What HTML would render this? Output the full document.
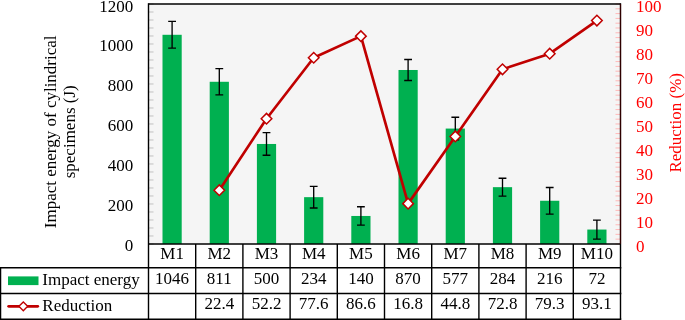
<!DOCTYPE html>
<html><head><meta charset="utf-8"><title>Chart</title><style>html,body{margin:0;padding:0;background:#fff}svg{display:block}</style></head><body>
<svg width="685" height="320" viewBox="0 0 685 320" font-family="'Liberation Serif', 'Times New Roman', serif" font-size="17">
<rect width="685" height="320" fill="#fff"/>
<rect x="148.5" y="4.0" width="472.00" height="239.95" fill="#f5f5f5"/>
<line x1="148.5" x2="153.5" y1="243.95" y2="243.95" stroke="#d0d0d0" stroke-width="1.4"/>
<line x1="148.5" x2="153.5" y1="235.95" y2="235.95" stroke="#d0d0d0" stroke-width="1.4"/>
<line x1="148.5" x2="153.5" y1="227.95" y2="227.95" stroke="#d0d0d0" stroke-width="1.4"/>
<line x1="148.5" x2="153.5" y1="219.95" y2="219.95" stroke="#d0d0d0" stroke-width="1.4"/>
<line x1="148.5" x2="153.5" y1="211.96" y2="211.96" stroke="#d0d0d0" stroke-width="1.4"/>
<line x1="148.5" x2="153.5" y1="203.96" y2="203.96" stroke="#d0d0d0" stroke-width="1.4"/>
<line x1="148.5" x2="153.5" y1="195.96" y2="195.96" stroke="#d0d0d0" stroke-width="1.4"/>
<line x1="148.5" x2="153.5" y1="187.96" y2="187.96" stroke="#d0d0d0" stroke-width="1.4"/>
<line x1="148.5" x2="153.5" y1="179.96" y2="179.96" stroke="#d0d0d0" stroke-width="1.4"/>
<line x1="148.5" x2="153.5" y1="171.96" y2="171.96" stroke="#d0d0d0" stroke-width="1.4"/>
<line x1="148.5" x2="153.5" y1="163.97" y2="163.97" stroke="#d0d0d0" stroke-width="1.4"/>
<line x1="148.5" x2="153.5" y1="155.97" y2="155.97" stroke="#d0d0d0" stroke-width="1.4"/>
<line x1="148.5" x2="153.5" y1="147.97" y2="147.97" stroke="#d0d0d0" stroke-width="1.4"/>
<line x1="148.5" x2="153.5" y1="139.97" y2="139.97" stroke="#d0d0d0" stroke-width="1.4"/>
<line x1="148.5" x2="153.5" y1="131.97" y2="131.97" stroke="#d0d0d0" stroke-width="1.4"/>
<line x1="148.5" x2="153.5" y1="123.97" y2="123.97" stroke="#d0d0d0" stroke-width="1.4"/>
<line x1="148.5" x2="153.5" y1="115.98" y2="115.98" stroke="#d0d0d0" stroke-width="1.4"/>
<line x1="148.5" x2="153.5" y1="107.98" y2="107.98" stroke="#d0d0d0" stroke-width="1.4"/>
<line x1="148.5" x2="153.5" y1="99.98" y2="99.98" stroke="#d0d0d0" stroke-width="1.4"/>
<line x1="148.5" x2="153.5" y1="91.98" y2="91.98" stroke="#d0d0d0" stroke-width="1.4"/>
<line x1="148.5" x2="153.5" y1="83.98" y2="83.98" stroke="#d0d0d0" stroke-width="1.4"/>
<line x1="148.5" x2="153.5" y1="75.98" y2="75.98" stroke="#d0d0d0" stroke-width="1.4"/>
<line x1="148.5" x2="153.5" y1="67.99" y2="67.99" stroke="#d0d0d0" stroke-width="1.4"/>
<line x1="148.5" x2="153.5" y1="59.99" y2="59.99" stroke="#d0d0d0" stroke-width="1.4"/>
<line x1="148.5" x2="153.5" y1="51.99" y2="51.99" stroke="#d0d0d0" stroke-width="1.4"/>
<line x1="148.5" x2="153.5" y1="43.99" y2="43.99" stroke="#d0d0d0" stroke-width="1.4"/>
<line x1="148.5" x2="153.5" y1="35.99" y2="35.99" stroke="#d0d0d0" stroke-width="1.4"/>
<line x1="148.5" x2="153.5" y1="27.99" y2="27.99" stroke="#d0d0d0" stroke-width="1.4"/>
<line x1="148.5" x2="153.5" y1="20.00" y2="20.00" stroke="#d0d0d0" stroke-width="1.4"/>
<line x1="148.5" x2="153.5" y1="12.00" y2="12.00" stroke="#d0d0d0" stroke-width="1.4"/>
<line x1="148.5" x2="153.5" y1="4.00" y2="4.00" stroke="#d0d0d0" stroke-width="1.4"/>
<line x1="615.5" x2="620.5" y1="243.95" y2="243.95" stroke="#ffb8b8" stroke-width="1"/>
<line x1="615.5" x2="620.5" y1="239.15" y2="239.15" stroke="#ffb8b8" stroke-width="1"/>
<line x1="615.5" x2="620.5" y1="234.35" y2="234.35" stroke="#ffb8b8" stroke-width="1"/>
<line x1="615.5" x2="620.5" y1="229.55" y2="229.55" stroke="#ffb8b8" stroke-width="1"/>
<line x1="615.5" x2="620.5" y1="224.75" y2="224.75" stroke="#ffb8b8" stroke-width="1"/>
<line x1="615.5" x2="620.5" y1="219.95" y2="219.95" stroke="#ffb8b8" stroke-width="1"/>
<line x1="615.5" x2="620.5" y1="215.16" y2="215.16" stroke="#ffb8b8" stroke-width="1"/>
<line x1="615.5" x2="620.5" y1="210.36" y2="210.36" stroke="#ffb8b8" stroke-width="1"/>
<line x1="615.5" x2="620.5" y1="205.56" y2="205.56" stroke="#ffb8b8" stroke-width="1"/>
<line x1="615.5" x2="620.5" y1="200.76" y2="200.76" stroke="#ffb8b8" stroke-width="1"/>
<line x1="615.5" x2="620.5" y1="195.96" y2="195.96" stroke="#ffb8b8" stroke-width="1"/>
<line x1="615.5" x2="620.5" y1="191.16" y2="191.16" stroke="#ffb8b8" stroke-width="1"/>
<line x1="615.5" x2="620.5" y1="186.36" y2="186.36" stroke="#ffb8b8" stroke-width="1"/>
<line x1="615.5" x2="620.5" y1="181.56" y2="181.56" stroke="#ffb8b8" stroke-width="1"/>
<line x1="615.5" x2="620.5" y1="176.76" y2="176.76" stroke="#ffb8b8" stroke-width="1"/>
<line x1="615.5" x2="620.5" y1="171.96" y2="171.96" stroke="#ffb8b8" stroke-width="1"/>
<line x1="615.5" x2="620.5" y1="167.17" y2="167.17" stroke="#ffb8b8" stroke-width="1"/>
<line x1="615.5" x2="620.5" y1="162.37" y2="162.37" stroke="#ffb8b8" stroke-width="1"/>
<line x1="615.5" x2="620.5" y1="157.57" y2="157.57" stroke="#ffb8b8" stroke-width="1"/>
<line x1="615.5" x2="620.5" y1="152.77" y2="152.77" stroke="#ffb8b8" stroke-width="1"/>
<line x1="615.5" x2="620.5" y1="147.97" y2="147.97" stroke="#ffb8b8" stroke-width="1"/>
<line x1="615.5" x2="620.5" y1="143.17" y2="143.17" stroke="#ffb8b8" stroke-width="1"/>
<line x1="615.5" x2="620.5" y1="138.37" y2="138.37" stroke="#ffb8b8" stroke-width="1"/>
<line x1="615.5" x2="620.5" y1="133.57" y2="133.57" stroke="#ffb8b8" stroke-width="1"/>
<line x1="615.5" x2="620.5" y1="128.77" y2="128.77" stroke="#ffb8b8" stroke-width="1"/>
<line x1="615.5" x2="620.5" y1="123.97" y2="123.97" stroke="#ffb8b8" stroke-width="1"/>
<line x1="615.5" x2="620.5" y1="119.18" y2="119.18" stroke="#ffb8b8" stroke-width="1"/>
<line x1="615.5" x2="620.5" y1="114.38" y2="114.38" stroke="#ffb8b8" stroke-width="1"/>
<line x1="615.5" x2="620.5" y1="109.58" y2="109.58" stroke="#ffb8b8" stroke-width="1"/>
<line x1="615.5" x2="620.5" y1="104.78" y2="104.78" stroke="#ffb8b8" stroke-width="1"/>
<line x1="615.5" x2="620.5" y1="99.98" y2="99.98" stroke="#ffb8b8" stroke-width="1"/>
<line x1="615.5" x2="620.5" y1="95.18" y2="95.18" stroke="#ffb8b8" stroke-width="1"/>
<line x1="615.5" x2="620.5" y1="90.38" y2="90.38" stroke="#ffb8b8" stroke-width="1"/>
<line x1="615.5" x2="620.5" y1="85.58" y2="85.58" stroke="#ffb8b8" stroke-width="1"/>
<line x1="615.5" x2="620.5" y1="80.78" y2="80.78" stroke="#ffb8b8" stroke-width="1"/>
<line x1="615.5" x2="620.5" y1="75.98" y2="75.98" stroke="#ffb8b8" stroke-width="1"/>
<line x1="615.5" x2="620.5" y1="71.19" y2="71.19" stroke="#ffb8b8" stroke-width="1"/>
<line x1="615.5" x2="620.5" y1="66.39" y2="66.39" stroke="#ffb8b8" stroke-width="1"/>
<line x1="615.5" x2="620.5" y1="61.59" y2="61.59" stroke="#ffb8b8" stroke-width="1"/>
<line x1="615.5" x2="620.5" y1="56.79" y2="56.79" stroke="#ffb8b8" stroke-width="1"/>
<line x1="615.5" x2="620.5" y1="51.99" y2="51.99" stroke="#ffb8b8" stroke-width="1"/>
<line x1="615.5" x2="620.5" y1="47.19" y2="47.19" stroke="#ffb8b8" stroke-width="1"/>
<line x1="615.5" x2="620.5" y1="42.39" y2="42.39" stroke="#ffb8b8" stroke-width="1"/>
<line x1="615.5" x2="620.5" y1="37.59" y2="37.59" stroke="#ffb8b8" stroke-width="1"/>
<line x1="615.5" x2="620.5" y1="32.79" y2="32.79" stroke="#ffb8b8" stroke-width="1"/>
<line x1="615.5" x2="620.5" y1="27.99" y2="27.99" stroke="#ffb8b8" stroke-width="1"/>
<line x1="615.5" x2="620.5" y1="23.20" y2="23.20" stroke="#ffb8b8" stroke-width="1"/>
<line x1="615.5" x2="620.5" y1="18.40" y2="18.40" stroke="#ffb8b8" stroke-width="1"/>
<line x1="615.5" x2="620.5" y1="13.60" y2="13.60" stroke="#ffb8b8" stroke-width="1"/>
<line x1="615.5" x2="620.5" y1="8.80" y2="8.80" stroke="#ffb8b8" stroke-width="1"/>
<line x1="615.5" x2="620.5" y1="4.00" y2="4.00" stroke="#ffb8b8" stroke-width="1"/>
<rect x="162.50" y="34.79" width="19.2" height="209.16" fill="#00b050"/>
<rect x="209.70" y="81.78" width="19.2" height="162.17" fill="#00b050"/>
<rect x="256.90" y="143.97" width="19.2" height="99.98" fill="#00b050"/>
<rect x="304.10" y="197.16" width="19.2" height="46.79" fill="#00b050"/>
<rect x="351.30" y="215.96" width="19.2" height="27.99" fill="#00b050"/>
<rect x="398.50" y="69.99" width="19.2" height="173.96" fill="#00b050"/>
<rect x="445.70" y="128.57" width="19.2" height="115.38" fill="#00b050"/>
<rect x="492.90" y="187.16" width="19.2" height="56.79" fill="#00b050"/>
<rect x="540.10" y="200.76" width="19.2" height="43.19" fill="#00b050"/>
<rect x="587.30" y="229.55" width="19.2" height="14.40" fill="#00b050"/>
<path d="M172.10 21.39V48.19M168.20 21.39H176.00M168.20 48.19H176.00" stroke="#000" stroke-width="1.33" fill="none"/>
<path d="M219.30 68.68V94.88M215.40 68.68H223.20M215.40 94.88H223.20" stroke="#000" stroke-width="1.33" fill="none"/>
<path d="M266.50 132.67V155.27M262.60 132.67H270.40M262.60 155.27H270.40" stroke="#000" stroke-width="1.33" fill="none"/>
<path d="M313.70 186.36V207.96M309.80 186.36H317.60M309.80 207.96H317.60" stroke="#000" stroke-width="1.33" fill="none"/>
<path d="M360.90 206.76V225.16M357.00 206.76H364.80M357.00 225.16H364.80" stroke="#000" stroke-width="1.33" fill="none"/>
<path d="M408.10 59.49V80.49M404.20 59.49H412.00M404.20 80.49H412.00" stroke="#000" stroke-width="1.33" fill="none"/>
<path d="M455.30 117.27V139.87M451.40 117.27H459.20M451.40 139.87H459.20" stroke="#000" stroke-width="1.33" fill="none"/>
<path d="M502.50 178.26V196.06M498.60 178.26H506.40M498.60 196.06H506.40" stroke="#000" stroke-width="1.33" fill="none"/>
<path d="M549.70 187.46V214.06M545.80 187.46H553.60M545.80 214.06H553.60" stroke="#000" stroke-width="1.33" fill="none"/>
<path d="M596.90 220.05V239.05M593.00 220.05H600.80M593.00 239.05H600.80" stroke="#000" stroke-width="1.33" fill="none"/>
<polyline points="219.30,190.20 266.50,118.70 313.70,57.75 360.90,36.15 408.10,203.64 455.30,136.45 502.50,69.27 549.70,53.67 596.90,20.56" fill="none" stroke="#c00000" stroke-width="2.67" stroke-linejoin="round" stroke-linecap="round"/>
<path d="M214.00 190.20L219.30 184.90L224.60 190.20L219.30 195.50Z" fill="#fff" stroke="#c00000" stroke-width="1.5"/>
<path d="M261.20 118.70L266.50 113.40L271.80 118.70L266.50 124.00Z" fill="#fff" stroke="#c00000" stroke-width="1.5"/>
<path d="M308.40 57.75L313.70 52.45L319.00 57.75L313.70 63.05Z" fill="#fff" stroke="#c00000" stroke-width="1.5"/>
<path d="M355.60 36.15L360.90 30.85L366.20 36.15L360.90 41.45Z" fill="#fff" stroke="#c00000" stroke-width="1.5"/>
<path d="M402.80 203.64L408.10 198.34L413.40 203.64L408.10 208.94Z" fill="#fff" stroke="#c00000" stroke-width="1.5"/>
<path d="M450.00 136.45L455.30 131.15L460.60 136.45L455.30 141.75Z" fill="#fff" stroke="#c00000" stroke-width="1.5"/>
<path d="M497.20 69.27L502.50 63.97L507.80 69.27L502.50 74.57Z" fill="#fff" stroke="#c00000" stroke-width="1.5"/>
<path d="M544.40 53.67L549.70 48.37L555.00 53.67L549.70 58.97Z" fill="#fff" stroke="#c00000" stroke-width="1.5"/>
<path d="M591.60 20.56L596.90 15.26L602.20 20.56L596.90 25.86Z" fill="#fff" stroke="#c00000" stroke-width="1.5"/>
<path d="M148.5 319.2V3.3M620.5 319.2V3.3" fill="none" stroke="#000" stroke-width="1.4"/>
<path d="M148.5 4.0H620.5" fill="none" stroke="#000" stroke-width="1.4"/>
<path d="M148.5 243.95H620.5" fill="none" stroke="#000" stroke-width="1.6"/>
<path d="M620.5 4.0V243.95" fill="none" stroke="#ff0000" stroke-opacity="0.18" stroke-width="1.4"/>
<path d="M0.5 267.7H620.5M0.5 293.45H620.5M0.5 319.2H620.5" fill="none" stroke="#000" stroke-width="1.6" stroke-linecap="square"/>
<path d="M0.5 267.7V319.2" fill="none" stroke="#000" stroke-width="1.5" stroke-linecap="square"/>
<line x1="195.70" x2="195.70" y1="243.95" y2="319.2" stroke="#000" stroke-width="1.4"/>
<line x1="242.90" x2="242.90" y1="243.95" y2="319.2" stroke="#000" stroke-width="1.4"/>
<line x1="290.10" x2="290.10" y1="243.95" y2="319.2" stroke="#000" stroke-width="1.4"/>
<line x1="337.30" x2="337.30" y1="243.95" y2="319.2" stroke="#000" stroke-width="1.4"/>
<line x1="384.50" x2="384.50" y1="243.95" y2="319.2" stroke="#000" stroke-width="1.4"/>
<line x1="431.70" x2="431.70" y1="243.95" y2="319.2" stroke="#000" stroke-width="1.4"/>
<line x1="478.90" x2="478.90" y1="243.95" y2="319.2" stroke="#000" stroke-width="1.4"/>
<line x1="526.10" x2="526.10" y1="243.95" y2="319.2" stroke="#000" stroke-width="1.4"/>
<line x1="573.30" x2="573.30" y1="243.95" y2="319.2" stroke="#000" stroke-width="1.4"/>
<text x="172.10" y="259.4" text-anchor="middle">M1</text>
<text x="172.10" y="284.2" text-anchor="middle">1046</text>
<text x="219.30" y="259.4" text-anchor="middle">M2</text>
<text x="219.30" y="284.2" text-anchor="middle">811</text>
<text x="219.30" y="309.4" text-anchor="middle">22.4</text>
<text x="266.50" y="259.4" text-anchor="middle">M3</text>
<text x="266.50" y="284.2" text-anchor="middle">500</text>
<text x="266.50" y="309.4" text-anchor="middle">52.2</text>
<text x="313.70" y="259.4" text-anchor="middle">M4</text>
<text x="313.70" y="284.2" text-anchor="middle">234</text>
<text x="313.70" y="309.4" text-anchor="middle">77.6</text>
<text x="360.90" y="259.4" text-anchor="middle">M5</text>
<text x="360.90" y="284.2" text-anchor="middle">140</text>
<text x="360.90" y="309.4" text-anchor="middle">86.6</text>
<text x="408.10" y="259.4" text-anchor="middle">M6</text>
<text x="408.10" y="284.2" text-anchor="middle">870</text>
<text x="408.10" y="309.4" text-anchor="middle">16.8</text>
<text x="455.30" y="259.4" text-anchor="middle">M7</text>
<text x="455.30" y="284.2" text-anchor="middle">577</text>
<text x="455.30" y="309.4" text-anchor="middle">44.8</text>
<text x="502.50" y="259.4" text-anchor="middle">M8</text>
<text x="502.50" y="284.2" text-anchor="middle">284</text>
<text x="502.50" y="309.4" text-anchor="middle">72.8</text>
<text x="549.70" y="259.4" text-anchor="middle">M9</text>
<text x="549.70" y="284.2" text-anchor="middle">216</text>
<text x="549.70" y="309.4" text-anchor="middle">79.3</text>
<text x="596.90" y="259.4" text-anchor="middle">M10</text>
<text x="596.90" y="284.2" text-anchor="middle">72</text>
<text x="596.90" y="309.4" text-anchor="middle">93.1</text>
<rect x="8" y="276.4" width="30.5" height="8.7" fill="#00b050"/>
<text x="42.3" y="285.1">Impact energy</text>
<line x1="8.6" x2="37.8" y1="306.3" y2="306.3" stroke="#c00000" stroke-width="2.67" stroke-linecap="round"/>
<path d="M18.90 306.30L23.30 301.90L27.70 306.30L23.30 310.70Z" fill="#fff" stroke="#c00000" stroke-width="1.4"/>
<text x="42.3" y="310.6">Reduction</text>
<text x="133.2" y="251.45" text-anchor="end">0</text>
<text x="133.2" y="211.46" text-anchor="end">200</text>
<text x="133.2" y="171.47" text-anchor="end">400</text>
<text x="133.2" y="131.47" text-anchor="end">600</text>
<text x="133.2" y="91.48" text-anchor="end">800</text>
<text x="133.2" y="51.49" text-anchor="end">1000</text>
<text x="133.2" y="11.50" text-anchor="end">1200</text>
<text x="635.9" y="251.65" fill="#ff0000">0</text>
<text x="635.9" y="227.65" fill="#ff0000">10</text>
<text x="635.9" y="203.66" fill="#ff0000">20</text>
<text x="635.9" y="179.66" fill="#ff0000">30</text>
<text x="635.9" y="155.67" fill="#ff0000">40</text>
<text x="635.9" y="131.67" fill="#ff0000">50</text>
<text x="635.9" y="107.68" fill="#ff0000">60</text>
<text x="635.9" y="83.68" fill="#ff0000">70</text>
<text x="635.9" y="59.69" fill="#ff0000">80</text>
<text x="635.9" y="35.69" fill="#ff0000">90</text>
<text x="635.9" y="11.70" fill="#ff0000">100</text>
<text transform="translate(55.5,131.8) rotate(-90)" text-anchor="middle">Impact energy of cylindrical</text>
<text transform="translate(75.1,131.8) rotate(-90)" text-anchor="middle">specimens (J)</text>
<text transform="translate(680.9,122.8) rotate(-90)" text-anchor="middle" fill="#ff0000">Reduction (%)</text>
</svg>
</body></html>
